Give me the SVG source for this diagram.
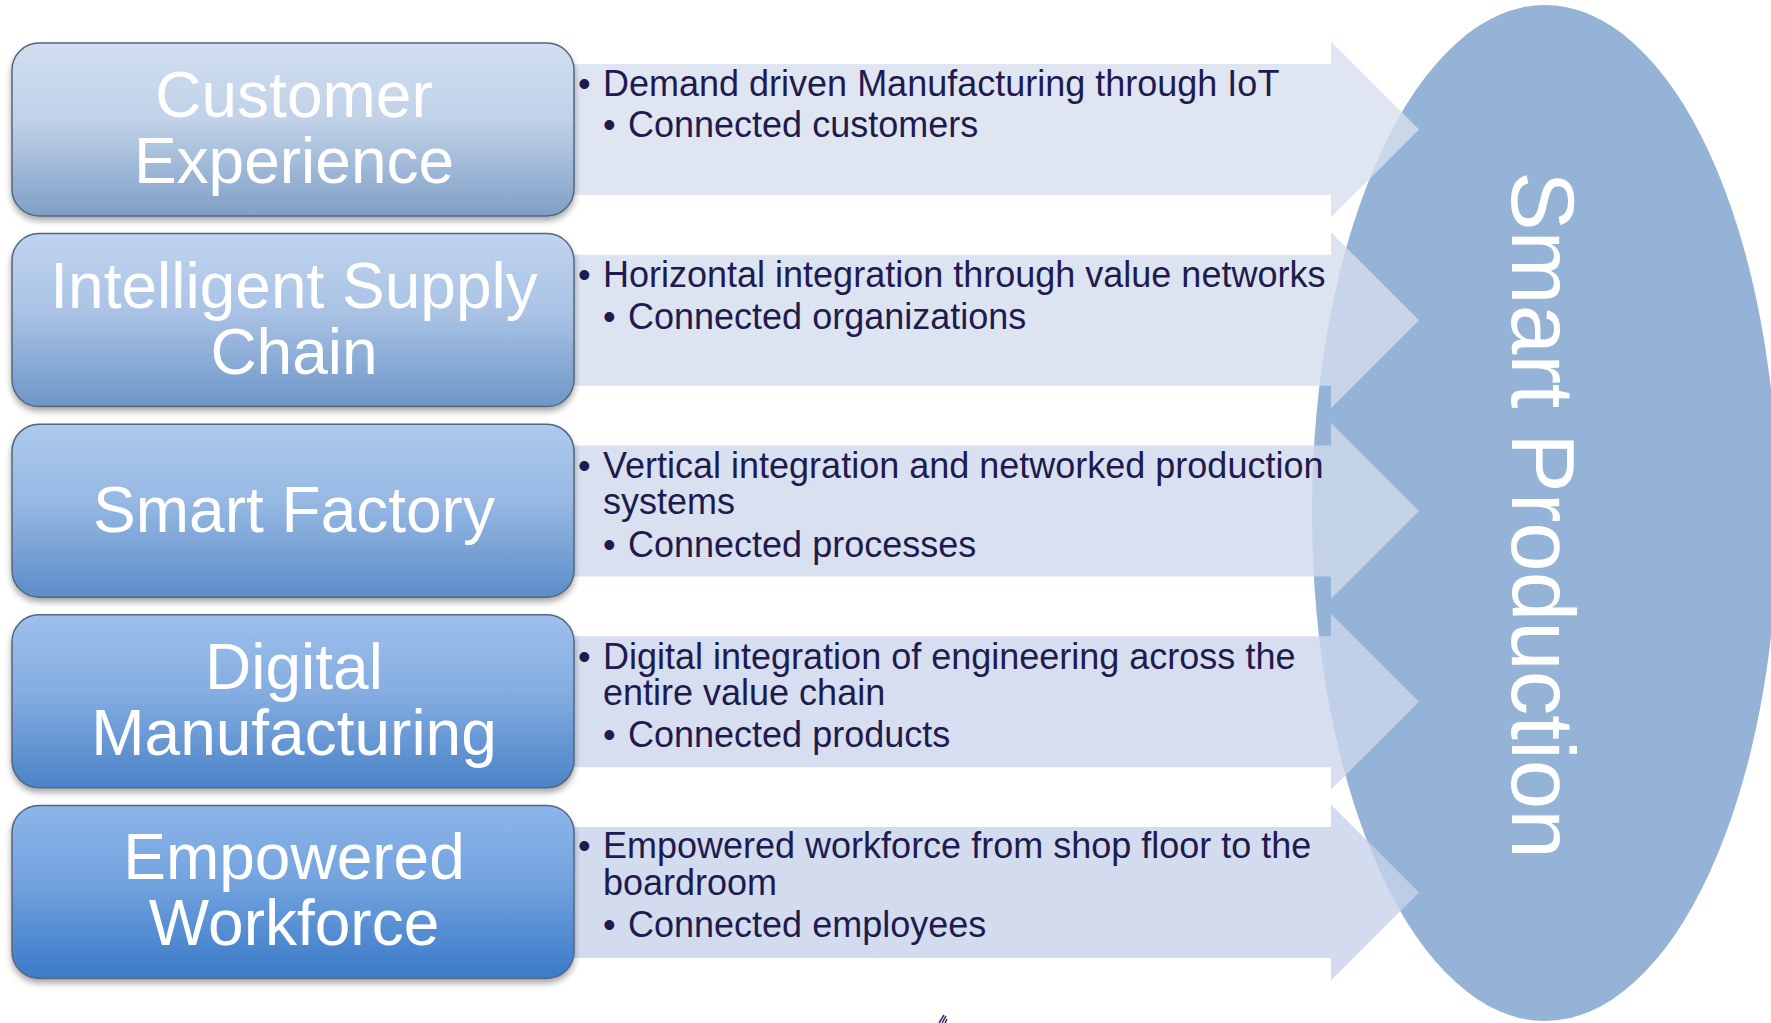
<svg xmlns="http://www.w3.org/2000/svg" width="1771" height="1023" viewBox="0 0 1771 1023">
<defs>
<style>
.box{stroke:#56667e;stroke-width:1.5;filter:url(#sh)}
.bt{font-family:"Liberation Sans",Arial,sans-serif;font-size:64px;fill:#ffffff;text-anchor:middle}
.tx{font-family:"Liberation Sans",Arial,sans-serif;font-size:36px;fill:#1f1b4e}
.arr{opacity:0.8}
.sp{font-family:"Liberation Sans",Arial,sans-serif;font-size:89px;fill:#ffffff;text-anchor:middle}
</style>
<filter id="sh" x="-10%" y="-10%" width="120%" height="130%">
<feDropShadow dx="0" dy="4" stdDeviation="3" flood-color="#000" flood-opacity="0.35"/>
</filter>
<linearGradient id="g1" x1="0" y1="0" x2="0" y2="1"><stop offset="0" stop-color="#d1def0"/><stop offset="0.45" stop-color="#c0d1e8"/><stop offset="1" stop-color="#7e9fc7"/></linearGradient>
<linearGradient id="g2" x1="0" y1="0" x2="0" y2="1"><stop offset="0" stop-color="#bfd4ef"/><stop offset="0.45" stop-color="#aac3e5"/><stop offset="1" stop-color="#6d96c7"/></linearGradient>
<linearGradient id="g3" x1="0" y1="0" x2="0" y2="1"><stop offset="0" stop-color="#aecaed"/><stop offset="0.45" stop-color="#96b8e3"/><stop offset="1" stop-color="#5c8dc8"/></linearGradient>
<linearGradient id="g4" x1="0" y1="0" x2="0" y2="1"><stop offset="0" stop-color="#9ec0ec"/><stop offset="0.45" stop-color="#84ade1"/><stop offset="1" stop-color="#4b83c8"/></linearGradient>
<linearGradient id="g5" x1="0" y1="0" x2="0" y2="1"><stop offset="0" stop-color="#8db6ea"/><stop offset="0.45" stop-color="#72a2de"/><stop offset="1" stop-color="#3a7ac8"/></linearGradient>
</defs>
<rect width="1771" height="1023" fill="#ffffff"/>

<g id="smart-production">
<ellipse cx="1545" cy="513" rx="233" ry="508" fill="#95b3d7"/>
<text class="sp" transform="translate(1512,515) rotate(90)">Smart Production</text>
</g>

<g id="connectors">
<path class="arr" fill="#d7e0ee" d="M560,64 H1331 V41.5 L1419,129.5 L1331,217.5 V195 H560 Z"/>
<path class="arr" fill="#d3dcee" d="M560,254.75 H1331 V232.25 L1419,320.25 L1331,408.25 V385.75 H560 Z"/>
<path class="arr" fill="#d0daec" d="M560,445.5 H1331 V423 L1419,511 L1331,599 V576.5 H560 Z"/>
<path class="arr" fill="#ccd6ec" d="M560,636.25 H1331 V613.75 L1419,701.75 L1331,789.75 V767.25 H560 Z"/>
<path class="arr" fill="#c8d3eb" d="M560,827 H1331 V804.5 L1419,892.5 L1331,980.5 V958 H560 Z"/>
</g>

<g id="text-1">
<text class="tx" x="578" y="96">•</text><text class="tx" x="603" y="96">Demand driven Manufacturing through IoT</text>
<text class="tx" x="603" y="137">•</text><text class="tx" x="628" y="137">Connected customers</text>
</g>
<g id="text-2">
<text class="tx" x="578" y="287">•</text><text class="tx" x="603" y="287">Horizontal integration through value networks</text>
<text class="tx" x="603" y="329">•</text><text class="tx" x="628" y="329">Connected organizations</text>
</g>
<g id="text-3">
<text class="tx" x="578" y="478">•</text><text class="tx" x="603" y="478">Vertical integration and networked production</text>
<text class="tx" x="603" y="514">systems</text>
<text class="tx" x="603" y="557">•</text><text class="tx" x="628" y="557">Connected processes</text>
</g>
<g id="text-4">
<text class="tx" x="578" y="669">•</text><text class="tx" x="603" y="669">Digital integration of engineering across the</text>
<text class="tx" x="603" y="705">entire value chain</text>
<text class="tx" x="603" y="747">•</text><text class="tx" x="628" y="747">Connected products</text>
</g>
<g id="text-5">
<text class="tx" x="578" y="858">•</text><text class="tx" x="603" y="858">Empowered workforce from shop floor to the</text>
<text class="tx" x="603" y="895">boardroom</text>
<text class="tx" x="603" y="937">•</text><text class="tx" x="628" y="937">Connected employees</text>
</g>

<g id="customer-experience">
<rect class="box" x="12" y="43" width="562" height="173" rx="27" fill="url(#g1)"/>
<text class="bt" x="294" y="117">Customer</text>
<text class="bt" x="294" y="183">Experience</text>
</g>
<g id="intelligent-supply-chain">
<rect class="box" x="12" y="233.6" width="562" height="173" rx="27" fill="url(#g2)"/>
<text class="bt" x="294" y="307.6">Intelligent Supply</text>
<text class="bt" x="294" y="373.6">Chain</text>
</g>
<g id="smart-factory">
<rect class="box" x="12" y="424.2" width="562" height="173" rx="27" fill="url(#g3)"/>
<text class="bt" x="294" y="532.2">Smart Factory</text>
</g>
<g id="digital-manufacturing">
<rect class="box" x="12" y="614.8" width="562" height="173" rx="27" fill="url(#g4)"/>
<text class="bt" x="294" y="688.8">Digital</text>
<text class="bt" x="294" y="754.8">Manufacturing</text>
</g>
<g id="empowered-workforce">
<rect class="box" x="12" y="805.4" width="562" height="173" rx="27" fill="url(#g5)"/>
<text class="bt" x="294" y="879.4">Empowered</text>
<text class="bt" x="294" y="945.4">Workforce</text>
</g>

<path d="M939,1023 L944,1015 M942,1023 L946,1016 M945,1023 L947,1019" stroke="#2b2a6b" stroke-width="1.5" fill="none"/>
</svg>
